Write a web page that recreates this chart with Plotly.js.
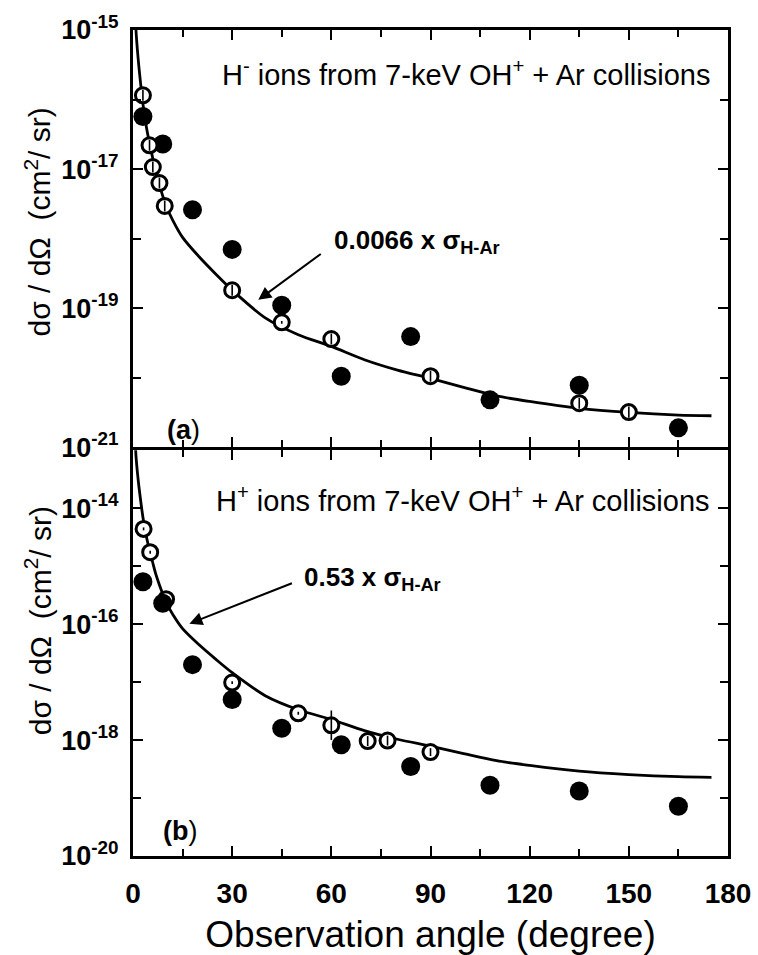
<!DOCTYPE html>
<html>
<head>
<meta charset="utf-8">
<script src="https://cdn.plot.ly/plotly-3.0.1.min.js"></script>
<style>html,body{margin:0;padding:0;background:#fff}</style>
</head>
<body>
<div id="chart" style="width:758px;height:955px"></div>
<script>
// Angular dependence of dσ/dΩ for H⁻ and H⁺ from 7-keV OH⁺ + Ar collisions.

// Reference cross section σ_H-Ar (cm²/sr) versus observation angle (degree)
const sigmaAngle = [0.5, 0.9, 1.5, 2, 3, 4, 5, 6, 7, 8, 10, 12, 15, 20, 25, 30, 40, 50, 60, 70, 80, 90, 100, 110, 120, 135, 150, 165, 175];
const sigmaHAr = [5.0e-13, 1.51e-13, 6.3e-14, 3.55e-14, 1.32e-14, 6.3e-15, 3.55e-15, 2.14e-15, 1.32e-15, 8.9e-16, 4.5e-16, 2.8e-16, 1.58e-16, 8.3e-17, 4.7e-17, 2.75e-17, 1.10e-17, 6.3e-18, 4.27e-18, 2.75e-18, 1.95e-18, 1.48e-18, 1.10e-18, 8.3e-19, 6.9e-19, 5.5e-19, 4.8e-19, 4.4e-19, 4.3e-19];
const scaleHminus = 0.0066;
const scaleHplus = 0.53;

// (a) H⁻ ions
const hmOpenAngle = [3, 5, 6, 8, 9.6, 30, 45, 60, 90, 135, 150];
const hmOpenValue = [1.15e-16, 2.2e-17, 1.07e-17, 6.3e-18, 2.95e-18, 1.81e-19, 6.25e-20, 3.6e-20, 1.05e-20, 4.3e-21, 3.2e-21];
const hmOpenErrFactor = [1.2, 1.2, 1.2, 1.2, 1.2, 1.2, 1.05, 1.2, 1.2, 1.2, 1.2];
const hmFilledAngle = [3, 9, 18, 30, 45, 63, 84, 108, 135, 165];
const hmFilledValue = [5.7e-17, 2.3e-17, 2.6e-18, 7.0e-19, 1.1e-19, 1.05e-20, 3.9e-20, 4.8e-21, 7.8e-21, 1.9e-21];

// (b) H⁺ ions
const hpOpenAngle = [3.2, 5.2, 10, 30, 50, 60, 71, 77, 90];
const hpOpenValue = [4.4e-15, 1.74e-15, 2.7e-16, 9.8e-18, 2.9e-18, 1.8e-18, 9.6e-19, 9.8e-19, 6.2e-19];
const hpOpenErrFactor = [1.06, 1.06, 1.06, 1.06, 1.06, 1.8, 1.22, 1.22, 1.17];
const hpFilledAngle = [3, 9, 18, 30, 45, 63, 84, 108, 135, 165];
const hpFilledValue = [5.4e-16, 2.3e-16, 2.0e-17, 5.0e-18, 1.6e-18, 8.3e-19, 3.5e-19, 1.66e-19, 1.32e-19, 7.2e-20];

// Tick labels
const xTicks = [0, 30, 60, 90, 120, 150, 180];
const yTopTicks = [1e-15, 1e-17, 1e-19, 1e-21];
const yTopTickText = ['10<sup>-15</sup>', '10<sup>-17</sup>', '10<sup>-19</sup>', '10<sup>-21</sup>'];
const yTopMinor = [1e-16, 1e-18, 1e-20];
const yBotTicks = [1e-14, 1e-16, 1e-18, 1e-20];
const yBotTickText = ['10<sup>-14</sup>', '10<sup>-16</sup>', '10<sup>-18</sup>', '10<sup>-20</sup>'];
const yBotMinor = [1e-13, 1e-15, 1e-17, 1e-19];

const FONT = 'Arial';
const W = 758, H = 955;
// plot-area edges (frame lines are drawn 1.5 px outside these)
const PL = 132.5, PR = 728.5, PT = 30, PB = 856.5;
const MID_TOP = 447.5, MID_BOT = 450.5;

const scaled = (k) => sigmaHAr.map(v => v * k);
const errUp = (vals, f) => vals.map((v, i) => v * (f[i] - 1));
const errDown = (vals, f) => vals.map((v, i) => v * (1 - 1 / f[i]));

function curveTrace(k, xa, ya) {
  return {x: sigmaAngle, y: scaled(k), xaxis: xa, yaxis: ya, mode: 'lines',
    line: {color: 'black', width: 2.8, shape: 'spline', smoothing: 0.8}, hoverinfo: 'skip'};
}
function filledTrace(xs, ys, xa, ya) {
  return {x: xs, y: ys, xaxis: xa, yaxis: ya, mode: 'markers',
    marker: {symbol: 'circle', size: 19, color: 'black', line: {width: 0}}};
}
function openTrace(xs, ys, xa, ya) {
  return {x: xs, y: ys, xaxis: xa, yaxis: ya, mode: 'markers',
    marker: {symbol: 'circle', size: 15, color: 'white', line: {color: 'black', width: 3}}};
}
function errTrace(xs, ys, f, xa, ya) {
  return {x: xs, y: ys, xaxis: xa, yaxis: ya, mode: 'markers',
    marker: {size: 1, color: 'rgba(0,0,0,0)'},
    error_y: {type: 'data', symmetric: false, array: errUp(ys, f), arrayminus: errDown(ys, f),
      color: 'black', thickness: 1.6, width: 0}};
}

const data = [
  // panel (a)
  curveTrace(scaleHminus, 'x2', 'y2'),
  filledTrace(hmFilledAngle, hmFilledValue, 'x2', 'y2'),
  openTrace(hmOpenAngle, hmOpenValue, 'x2', 'y2'),
  errTrace(hmOpenAngle, hmOpenValue, hmOpenErrFactor, 'x2', 'y2'),
  // panel (b)
  curveTrace(scaleHplus, 'x', 'y'),
  openTrace(hpOpenAngle, hpOpenValue, 'x', 'y'),
  errTrace(hpOpenAngle, hpOpenValue, hpOpenErrFactor, 'x', 'y'),
  filledTrace(hpFilledAngle, hpFilledValue, 'x', 'y')
];

const ph = PB - PT;
const topDomain = [(PB - MID_TOP) / ph, 1];
const botDomain = [0, (PB - MID_BOT) / ph];

const xCommon = {
  range: [0, 180], tickmode: 'array', tickvals: xTicks,
  ticks: 'inside', ticklen: 10, tickwidth: 2, tickcolor: 'black',
  minor: {tickmode: 'linear', tick0: 15, dtick: 30, ticks: 'inside', ticklen: 7, tickwidth: 2, tickcolor: 'black'},
  showline: true, linewidth: 3, linecolor: 'black', mirror: 'ticks',
  showgrid: false, zeroline: false, fixedrange: true
};
const yCommon = {
  type: 'log', tickmode: 'array',
  ticks: 'inside', ticklen: 10, tickwidth: 2, tickcolor: 'black',
  showline: true, linewidth: 3, linecolor: 'black', mirror: 'ticks',
  showgrid: false, zeroline: false, fixedrange: true,
  tickfont: {family: FONT, size: 27, weight: 'bold', color: 'black'},
  ticklabelstandoff: 6
};

// pixel position -> paper coordinates
const px = (x) => (x - PL) / (PR - PL);
const py = (y) => (PB - y) / ph;

const annotations = [
  {text: 'H<sup>-</sup> ions from 7-keV OH<sup>+</sup> + Ar collisions', x: px(712), y: py(73), xanchor: 'right', yanchor: 'middle',
   font: {family: FONT, size: 29, color: 'black'}},
  {text: 'H<sup>+</sup> ions from 7-keV OH<sup>+</sup> + Ar collisions', x: px(712), y: py(499), xanchor: 'right', yanchor: 'middle',
   font: {family: FONT, size: 29, color: 'black'}},
  {text: '<b>0.0066 x σ<sub>H-Ar</sub></b>', x: px(332), y: py(242), xanchor: 'left', yanchor: 'middle',
   font: {family: FONT, size: 26, color: 'black'}},
  {text: '<b>0.53 x σ<sub>H-Ar</sub></b>', x: px(302), y: py(579), xanchor: 'left', yanchor: 'middle',
   font: {family: FONT, size: 26, color: 'black'}},
  {text: '<b>(a</b>)', x: px(183), y: py(430), xanchor: 'center', yanchor: 'middle',
   font: {family: FONT, size: 27, color: 'black'}},
  {text: '<b>(b</b>)', x: px(180), y: py(831), xanchor: 'center', yanchor: 'middle',
   font: {family: FONT, size: 27, color: 'black'}},
  {text: 'dσ / dΩ  (cm<sup>2</sup>/ sr)', x: px(37), y: py(222), xanchor: 'center', yanchor: 'middle',
   textangle: -90, font: {family: FONT, size: 30, color: 'black'}},
  {text: 'dσ / dΩ  (cm<sup>2</sup>/ sr)', x: px(37), y: py(621), xanchor: 'center', yanchor: 'middle',
   textangle: -90, font: {family: FONT, size: 30, color: 'black'}},
  // arrows pointing at the scaled σ_H-Ar curves
  {text: '', x: px(258), y: py(300), ax: 64, ay: -47, showarrow: true, arrowhead: 2, arrowsize: 1.3, arrowwidth: 2, arrowcolor: 'black', standoff: 0},
  {text: '', x: px(189), y: py(624), ax: 104, ay: -41, showarrow: true, arrowhead: 2, arrowsize: 1.3, arrowwidth: 2, arrowcolor: 'black', standoff: 0}
].map(a => Object.assign({xref: 'paper', yref: 'paper', showarrow: false}, a));

const layout = {
  width: W, height: H,
  margin: {l: PL, r: W - PR, t: PT, b: H - PB, pad: 0},
  paper_bgcolor: 'white', plot_bgcolor: 'white',
  showlegend: false,
  font: {family: FONT, size: 16, color: 'black'},
  xaxis: Object.assign({}, xCommon, {
    anchor: 'y', domain: [0, 1],
    tickfont: {family: FONT, size: 28, weight: 'bold', color: 'black'},
    ticklabelstandoff: 10,
    title: {text: 'Observation angle (degree)', font: {family: FONT, size: 37, color: 'black'}, standoff: 14}
  }),
  xaxis2: Object.assign({}, xCommon, {anchor: 'y2', domain: [0, 1], showticklabels: false}),
  yaxis: Object.assign({}, yCommon, {
    anchor: 'x', domain: botDomain, range: [-20, -13],
    tickvals: yBotTicks, ticktext: yBotTickText,
    minor: {tickmode: 'array', tickvals: yBotMinor, ticks: 'inside', ticklen: 8, tickwidth: 2, tickcolor: 'black'}
  }),
  yaxis2: Object.assign({}, yCommon, {
    anchor: 'x2', domain: topDomain, range: [-21, -15],
    tickvals: yTopTicks, ticktext: yTopTickText,
    minor: {tickmode: 'array', tickvals: yTopMinor, ticks: 'inside', ticklen: 8, tickwidth: 2, tickcolor: 'black'}
  }),
  annotations: annotations
};

Plotly.newPlot('chart', data, layout, {staticPlot: true, displayModeBar: false});
</script>
</body>
</html>
